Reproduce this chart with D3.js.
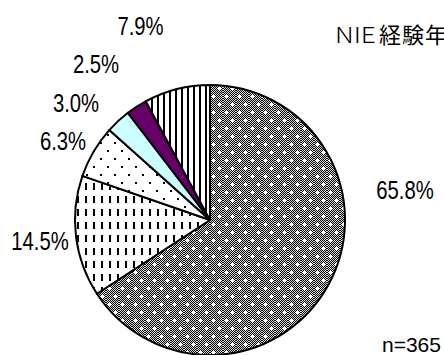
<!DOCTYPE html>
<html><head><meta charset="utf-8">
<script src="https://cdn.jsdelivr.net/npm/d3@7"></script>
<style>html,body{margin:0;padding:0;background:#fff;overflow:hidden}</style>
</head><body>
<svg id="c" width="444" height="355"></svg>
<script>
// ---- data ----
const categories = ["A", "B", "C", "D", "E", "F"];
const values = [65.8, 14.5, 6.3, 3.0, 2.5, 7.9];
const valueLabels = ["65.8%", "14.5%", "6.3%", "3.0%", "2.5%", "7.9%"];
const titleLetters = "NIE";
const titleKanji = "経験年数";
const nLabel = "n=365";

// ---- layout ----
const W = 444, H = 355;
const cx = 210, cy = 220, R = 135;
const labelPos = [[405, 199], [40, 250], [63, 150], [76, 111.5], [96, 72.5], [140.5, 35]];

const svg = d3.select("#c");
const defs = svg.append("defs");

// checker
const chk = defs.append("pattern").attr("id", "chk").attr("patternUnits", "userSpaceOnUse")
  .attr("width", 2).attr("height", 2);
chk.append("rect").attr("width", 2).attr("height", 2).attr("fill", "#d8d8d8");
chk.append("rect").attr("width", 1).attr("height", 1).attr("fill", "#000");
chk.append("rect").attr("x", 1).attr("y", 1).attr("width", 1).attr("height", 1).attr("fill", "#000");

// checker with white plus dots
const p0 = defs.append("pattern").attr("id", "p0").attr("patternUnits", "userSpaceOnUse")
  .attr("width", 13).attr("height", 16);
p0.append("rect").attr("width", 13).attr("height", 16).attr("fill", "url(#chk)");
[[3, 4], [9, 12]].forEach(([x, y]) => {
  p0.append("rect").attr("x", x - 1).attr("y", y - 1).attr("width", 3).attr("height", 3).attr("fill", "#fff");
  p0.append("rect").attr("x", x - 2).attr("y", y).attr("width", 5).attr("height", 1).attr("fill", "#fff");
  p0.append("rect").attr("x", x).attr("y", y - 2).attr("width", 1).attr("height", 5).attr("fill", "#fff");
});

// vertical dashes
const p1 = defs.append("pattern").attr("id", "p1").attr("patternUnits", "userSpaceOnUse")
  .attr("width", 8).attr("height", 13);
p1.append("rect").attr("width", 8).attr("height", 13).attr("fill", "#fff");
p1.append("rect").attr("x", 3).attr("y", 2).attr("width", 2).attr("height", 7).attr("fill", "#000");

// sparse dots
const p2 = defs.append("pattern").attr("id", "p2").attr("patternUnits", "userSpaceOnUse")
  .attr("width", 14).attr("height", 16);
p2.append("rect").attr("width", 14).attr("height", 16).attr("fill", "#fff");
p2.append("rect").attr("x", 2).attr("y", 2).attr("width", 2).attr("height", 2).attr("fill", "#000");
p2.append("rect").attr("x", 9).attr("y", 10).attr("width", 2).attr("height", 2).attr("fill", "#000");

// vertical stripes
const p5 = defs.append("pattern").attr("id", "p5").attr("patternUnits", "userSpaceOnUse")
  .attr("width", 6).attr("height", 6);
p5.append("rect").attr("width", 6).attr("height", 6).attr("fill", "#fff");
p5.append("rect").attr("x", 1).attr("y", 0).attr("width", 2).attr("height", 6).attr("fill", "#000");

const fills = ["url(#p0)", "url(#p1)", "url(#p2)", "#ccffff", "#660066", "url(#p5)"];

const pie = d3.pie().sort(null).value(d => d)(values);
const arc = d3.arc().innerRadius(0).outerRadius(R);

const g = svg.append("g").attr("transform", `translate(${cx},${cy})`);
g.selectAll("path").data(pie).join("path")
  .attr("d", arc)
  .attr("fill", (d, i) => fills[i])
  .attr("stroke", "#000")
  .attr("stroke-width", 2)
  .attr("stroke-linejoin", "round");

// value labels
svg.selectAll("text.v").data(valueLabels).join("text")
  .attr("class", "v")
  .attr("transform", (d, i) => `translate(${labelPos[i][0]},${labelPos[i][1]}) scale(0.78,1)`)
  .attr("text-anchor", "middle")
  .attr("font-family", "'Liberation Sans', Arial, sans-serif")
  .attr("font-size", 26)
  .attr("fill", "#000")
  .text(d => d);

// title
svg.append("text")
  .attr("x", 335).attr("y", 43)
  .attr("font-family", "'Noto Sans CJK JP', sans-serif")
  .attr("font-size", 22)
  .attr("font-weight", 300)
  .attr("textLength", 41).attr("lengthAdjust", "spacingAndGlyphs")
  .text(titleLetters);
svg.append("text")
  .attr("x", 379).attr("y", 43)
  .attr("font-family", "'Noto Sans CJK JP', sans-serif")
  .attr("font-size", 22)
  .attr("letter-spacing", 1)
  .text(titleKanji);

svg.append("text")
  .attr("x", 382).attr("y", 352)
  .attr("font-family", "'Liberation Sans', Arial, sans-serif")
  .attr("font-size", 21)
  .text(nLabel);
</script>
</body></html>
